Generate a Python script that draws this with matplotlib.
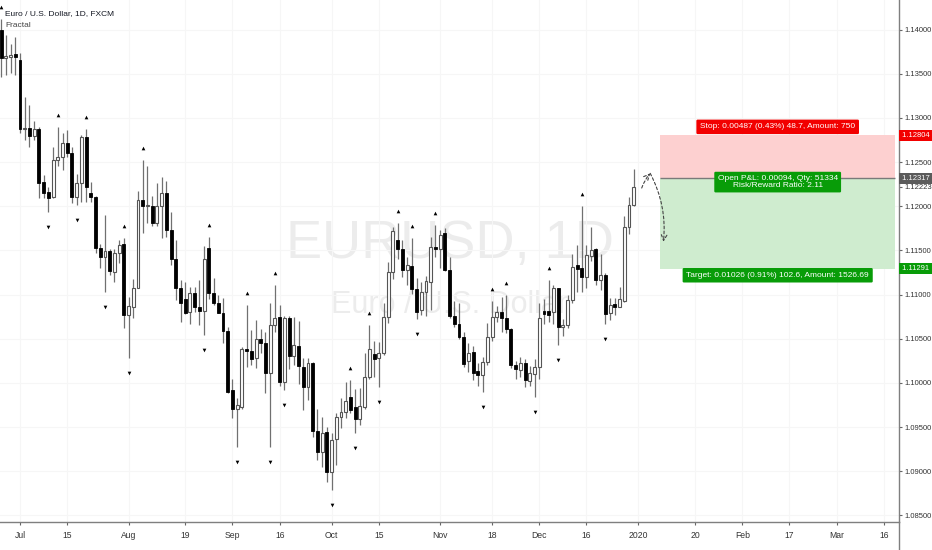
"""
EUR/USD daily candles with fractals and a short position tool
"""

import numpy as np
import pandas as pd
import matplotlib
matplotlib.use('Agg')
import matplotlib.pyplot as plt
import matplotlib.transforms as mtransforms
from matplotlib.patches import Rectangle
from matplotlib import font_manager


# daily candles, 2019-06-25 .. 2019-12-31
opens = [1.1399, 1.1368, 1.1369, 1.1372, 1.1365, 1.1287, 1.1288, 1.1279, 1.1287, 1.1227,
         1.1216, 1.1210, 1.1252, 1.1256, 1.1271, 1.1260, 1.1211, 1.1226, 1.1278, 1.1215,
         1.1210, 1.1153, 1.1142, 1.1149, 1.1126, 1.1147, 1.1157, 1.1077, 1.1086, 1.1107,
         1.1207, 1.1200, 1.1200, 1.1181, 1.1200, 1.1215, 1.1173, 1.1140, 1.1108, 1.1095,
         1.1080, 1.1102, 1.1086, 1.1081, 1.1153, 1.1102, 1.1091, 1.1079, 1.1059, 1.0992,
         1.0970, 1.0973, 1.1038, 1.1036, 1.1028, 1.1050, 1.1045, 1.1011, 1.1065, 1.1075,
         1.1001, 1.1074, 1.1031, 1.1042, 1.1018, 1.0995, 1.1022, 1.0946, 1.0922, 1.0944,
         1.0899, 1.0936, 1.0962, 1.0967, 1.0984, 1.0973, 1.0959, 1.0973, 1.1007, 1.1033,
         1.1028, 1.1034, 1.1075, 1.1126, 1.1162, 1.1152, 1.1128, 1.1132, 1.1106, 1.1082,
         1.1103, 1.1114, 1.1154, 1.1152, 1.1170, 1.1128, 1.1076, 1.1067, 1.1052, 1.1025,
         1.1035, 1.1013, 1.1009, 1.1024, 1.1052, 1.1075, 1.1080, 1.1074, 1.1061, 1.1020,
         1.1015, 1.1023, 1.1002, 1.1010, 1.1018, 1.1081, 1.1081, 1.1080, 1.1107, 1.1063,
         1.1066, 1.1094, 1.1133, 1.1130, 1.1120, 1.1144, 1.1152, 1.1117, 1.1122, 1.1079,
         1.1089, 1.1086, 1.1093, 1.1177, 1.1201]
highs = [1.1412, 1.1394, 1.1384, 1.1392, 1.1373, 1.1324, 1.1315, 1.1297, 1.1290, 1.1235,
         1.1222, 1.1267, 1.1290, 1.1283, 1.1286, 1.1267, 1.1236, 1.1281, 1.1287, 1.1227,
         1.1212, 1.1157, 1.1190, 1.1152, 1.1152, 1.1162, 1.1164, 1.1097, 1.1118, 1.1217,
         1.1252, 1.1245, 1.1212, 1.1226, 1.1233, 1.1228, 1.1193, 1.1162, 1.1116, 1.1114,
         1.1109, 1.1109, 1.1116, 1.1155, 1.1165, 1.1119, 1.1099, 1.1096, 1.1063, 1.1004,
         1.0983, 1.1041, 1.1088, 1.1060, 1.1071, 1.1061, 1.1058, 1.1090, 1.1111, 1.1088,
         1.1076, 1.1076, 1.1075, 1.1070, 1.1028, 1.1028, 1.1024, 1.0970, 1.0961, 1.0950,
         1.0943, 1.0966, 1.0983, 1.1001, 1.1003, 1.0993, 1.0994, 1.1034, 1.1065, 1.1047,
         1.1046, 1.1090, 1.1137, 1.1177, 1.1181, 1.1162, 1.1142, 1.1164, 1.1119, 1.1114,
         1.1121, 1.1165, 1.1179, 1.1173, 1.1175, 1.1142, 1.1093, 1.1090, 1.1058, 1.1045,
         1.1042, 1.1023, 1.1029, 1.1068, 1.1093, 1.1087, 1.1097, 1.1099, 1.1062, 1.1025,
         1.1029, 1.1027, 1.1019, 1.1027, 1.1090, 1.1095, 1.1117, 1.1111, 1.1108, 1.1072,
         1.1099, 1.1146, 1.1156, 1.1200, 1.1156, 1.1176, 1.1153, 1.1146, 1.1124, 1.1096,
         1.1096, 1.1109, 1.1189, 1.1210, 1.1242]
lows = [1.1346, 1.1348, 1.1351, 1.1349, 1.1283, 1.1275, 1.1267, 1.1275, 1.1209, 1.1209,
        1.1194, 1.1209, 1.1246, 1.1241, 1.1256, 1.1204, 1.1201, 1.1205, 1.1205, 1.1205,
        1.1147, 1.1130, 1.1103, 1.1122, 1.1114, 1.1136, 1.1062, 1.1028, 1.1073, 1.1107,
        1.1170, 1.1181, 1.1178, 1.1178, 1.1164, 1.1165, 1.1133, 1.1094, 1.1069, 1.1078,
        1.1067, 1.1080, 1.1066, 1.1054, 1.1095, 1.1088, 1.1079, 1.1045, 1.0989, 1.0960,
        1.0928, 1.0970, 1.1018, 1.1020, 1.1017, 1.1034, 1.0989, 1.0928, 1.1058, 1.0997,
        1.0992, 1.1016, 1.1020, 1.0999, 1.0969, 1.0981, 1.0939, 1.0913, 1.0905, 1.0888,
        1.0879, 1.0907, 1.0949, 1.0960, 1.0966, 1.0943, 1.0952, 1.0970, 1.1004, 1.1007,
        1.0995, 1.1032, 1.1068, 1.1118, 1.1140, 1.1120, 1.1111, 1.1101, 1.1072, 1.1077,
        1.1076, 1.1082, 1.1143, 1.1130, 1.1127, 1.1074, 1.1063, 1.1050, 1.1018, 1.1012,
        1.1003, 1.0996, 1.0990, 1.1020, 1.1048, 1.1069, 1.1058, 1.1056, 1.1017, 1.1005,
        1.1007, 1.0995, 1.0996, 1.0984, 1.1005, 1.1067, 1.1069, 1.1067, 1.1043, 1.1053,
        1.1062, 1.1090, 1.1103, 1.1103, 1.1107, 1.1138, 1.1111, 1.1105, 1.1067, 1.1071,
        1.1077, 1.1086, 1.1092, 1.1169, 1.1200]
closes = [1.1368, 1.1370, 1.1371, 1.1369, 1.1287, 1.1288, 1.1279, 1.1287, 1.1226, 1.1215,
          1.1209, 1.1252, 1.1256, 1.1272, 1.1260, 1.1210, 1.1226, 1.1278, 1.1222, 1.1210,
          1.1153, 1.1142, 1.1149, 1.1127, 1.1147, 1.1156, 1.1077, 1.1087, 1.1108, 1.1207,
          1.1200, 1.1201, 1.1181, 1.1200, 1.1215, 1.1173, 1.1140, 1.1108, 1.1091, 1.1079,
          1.1102, 1.1086, 1.1081, 1.1140, 1.1102, 1.1091, 1.1079, 1.1059, 1.0990, 1.0970,
          1.0975, 1.1038, 1.1036, 1.1027, 1.1050, 1.1045, 1.1011, 1.1065, 1.1074, 1.1001,
          1.1074, 1.1031, 1.1043, 1.1019, 1.0995, 1.1023, 1.0946, 1.0922, 1.0943, 1.0899,
          1.0935, 1.0962, 1.0967, 1.0980, 1.0969, 1.0959, 1.0974, 1.1007, 1.1038, 1.1027,
          1.1034, 1.1075, 1.1126, 1.1172, 1.1152, 1.1128, 1.1133, 1.1106, 1.1080, 1.1103,
          1.1115, 1.1154, 1.1152, 1.1167, 1.1128, 1.1076, 1.1067, 1.1052, 1.1021, 1.1034,
          1.1011, 1.1009, 1.1024, 1.1052, 1.1075, 1.1080, 1.1074, 1.1061, 1.1020, 1.1016,
          1.1023, 1.1003, 1.1011, 1.1018, 1.1074, 1.1078, 1.1077, 1.1107, 1.1063, 1.1066,
          1.1094, 1.1131, 1.1129, 1.1120, 1.1145, 1.1150, 1.1117, 1.1122, 1.1078, 1.1088,
          1.1086, 1.1095, 1.1177, 1.1201, 1.1222]

# bar numbers carrying a fractal mark
up_fractals = [0, 12, 18, 26, 30, 44, 52, 58, 74, 78, 84, 87, 92, 104, 107, 116, 123]
down_fractals = [10, 16, 22, 27, 43, 50, 57, 60, 70, 75, 80, 88, 102, 113, 118, 128]

tick_dates = ['2019-07-01', '2019-07-15', '2019-08-01', '2019-08-19', '2019-09-02',
              '2019-09-16', '2019-10-01', '2019-10-15', '2019-11-01', '2019-11-18',
              '2019-12-02', '2019-12-16', '2020-01-02', '2020-01-20', '2020-02-03',
              '2020-02-17', '2020-03-02', '2020-03-16']
tick_labels = ['Jul', '15', 'Aug', '19', 'Sep', '16', 'Oct', '15', 'Nov', '18',
               'Dec', '16', '2020', '20', 'Feb', '17', 'Mar', '16']

entry_price = 1.12317
stop_price = 1.12804
target_price = 1.11291
last_price = 1.12223

stop_text = 'Stop: 0.00487 (0.43%) 48.7, Amount: 750'
pnl_text = 'Open P&L: 0.00094, Qty: 51334\nRisk/Reward Ratio: 2.11'
target_text = 'Target: 0.01026 (0.91%) 102.6, Amount: 1526.69'

# projection arrow (bar number, price)
arrow_up = [(135.7, 1.12206), (137.5, 1.12372)]
arrow_down = [(137.5, 1.12372), (140.3, 1.11598)]


def main():
    names = {f.name for f in font_manager.fontManager.ttflist}
    font = 'Liberation Sans Narrow' if 'Liberation Sans Narrow' in names else 'Liberation Sans'
    plt.rcParams['font.family'] = [font, 'DejaVu Sans']

    days = pd.bdate_range('2019-06-25', '2020-03-31')
    days = days.drop(pd.to_datetime(['2019-12-25', '2020-01-01']))

    o = np.array(opens)
    h = np.array(highs)
    l = np.array(lows)
    c = np.array(closes)
    x = np.arange(len(o))

    fig = plt.figure(figsize=(9.32, 5.5), dpi=100)
    ax = fig.add_axes([0, 28 / 550, 899 / 932, 522 / 550])

    # watermark
    ax.text(0.5, 0.506, 'EURUSD, 1D', transform=ax.transAxes, ha='center',
            va='baseline', fontsize=39, color='#ececec', zorder=0)
    ax.text(0.5, 0.400, 'Euro / U.S. Dollar', transform=ax.transAxes, ha='center',
            va='baseline', fontsize=22, color='#ececec', zorder=0)

    # candles
    up = c >= o
    ax.vlines(x, l, h, color='#707070', lw=0.9, zorder=2)
    body = np.maximum(np.abs(c - o), 0.00004)
    ax.bar(x[up], body[up], bottom=np.minimum(o, c)[up], width=0.62,
           color='white', edgecolor='#555555', linewidth=0.8, zorder=3)
    ax.bar(x[~up], body[~up], bottom=np.minimum(o, c)[~up], width=0.62,
           color='black', edgecolor='black', linewidth=0.6, zorder=3)

    # fractals
    ax.scatter(x[up_fractals], h[up_fractals] + 0.00136, marker='^', s=7,
               color='black', linewidths=0, zorder=4)
    ax.scatter(x[down_fractals], l[down_fractals] - 0.0017, marker='v', s=7,
               color='black', linewidths=0, zorder=4)

    # position tool
    box_left, box_right = 139.6, 189.4
    mid = (box_left + box_right) / 2
    ax.add_patch(Rectangle((box_left, entry_price), box_right - box_left,
                           stop_price - entry_price, color='#fdd0d0', lw=0, zorder=1))
    ax.add_patch(Rectangle((box_left, target_price), box_right - box_left,
                           entry_price - target_price, color='#cfeccf', lw=0, zorder=1))
    ax.hlines(entry_price, box_left, box_right, color='#7a7a7a', lw=1, zorder=2)

    label_opts = dict(textcoords='offset points', ha='center', va='center',
                      color='white', fontsize=6.0, zorder=6, linespacing=1.0)
    ax.annotate(stop_text, (mid, stop_price), xytext=(0, 6),
                bbox=dict(boxstyle='round,pad=0.45,rounding_size=0.15', fc='#f20000', ec='none'),
                **label_opts)
    ax.annotate(pnl_text, (mid, entry_price), xytext=(0, -2.8),
                bbox=dict(boxstyle='round,pad=0.4,rounding_size=0.15', fc='#089c08', ec='none'),
                **label_opts)
    ax.annotate(target_text, (mid, target_price), xytext=(0, -4.6),
                bbox=dict(boxstyle='round,pad=0.45,rounding_size=0.15', fc='#089c08', ec='none'),
                **label_opts)

    # projection arrows
    arrow = dict(arrowstyle='->', linestyle=(0, (2.5, 2)), color='#444444', lw=0.8,
                 shrinkA=0, shrinkB=0)
    ax.annotate('', xy=arrow_up[1], xytext=arrow_up[0],
                arrowprops=dict(connectionstyle='arc3,rad=-0.1', **arrow))
    ax.annotate('', xy=arrow_down[1], xytext=arrow_down[0],
                arrowprops=dict(connectionstyle='arc3,rad=-0.15', **arrow))

    # axes
    ax.set_xlim(-0.24, 190.2)
    ax.set_ylim(1.08426, 1.14334)

    yticks = np.arange(1.085, 1.1401, 0.005)
    ax.yaxis.tick_right()
    ax.set_yticks(yticks, labels=['%.5f' % v for v in yticks])
    ax.set_yticks([last_price], labels=['%.5f' % last_price], minor=True)
    xticks = [days.get_loc(pd.Timestamp(d)) for d in tick_dates]
    ax.set_xticks(xticks, labels=tick_labels)
    ax.tick_params(which='both', length=2.5, width=0.8, color='#666666', labelsize=6.2,
                   labelcolor='#333333', pad=1.5)
    ax.tick_params(axis='y', which='both', labelsize=5.5)
    ax.tick_params(axis='x', pad=4)

    ax.grid(True, which='major', color='#f6f6f6', lw=0.8, zorder=0)
    ax.set_axisbelow(True)
    for side in ('top', 'left'):
        ax.spines[side].set_visible(False)
    for side in ('right', 'bottom'):
        ax.spines[side].set_color('#7f7f7f')
        ax.spines[side].set_linewidth(1)
    fig.add_artist(plt.Line2D([899 / 932, 899 / 932], [0, 28 / 550],
                              color='#7f7f7f', lw=1))

    # price labels on the axis
    trans = mtransforms.blended_transform_factory(ax.transAxes, ax.transData)
    for price, colour in ((stop_price, '#f20000'), (entry_price, '#5b5b5b'),
                          (target_price, '#089c08')):
        ax.text(1.0016, price, ' %.5f ' % price, transform=trans, ha='left',
                va='center', fontsize=5.5, color='white', clip_on=False, zorder=7,
                bbox=dict(boxstyle='square,pad=0.25', fc=colour, ec='none'))

    # legend texts
    fig.text(5 / 932, 1 - 15 / 550, 'Euro / U.S. Dollar, 1D, FXCM', fontsize=6.0,
             color='#131722', va='baseline')
    fig.text(5 / 932, 1 - 27 / 550, 'Fractal', fontsize=6.0, color='#444444',
             va='baseline')

    fig.savefig('out.png', dpi=100)


if __name__ == '__main__':
    main()
